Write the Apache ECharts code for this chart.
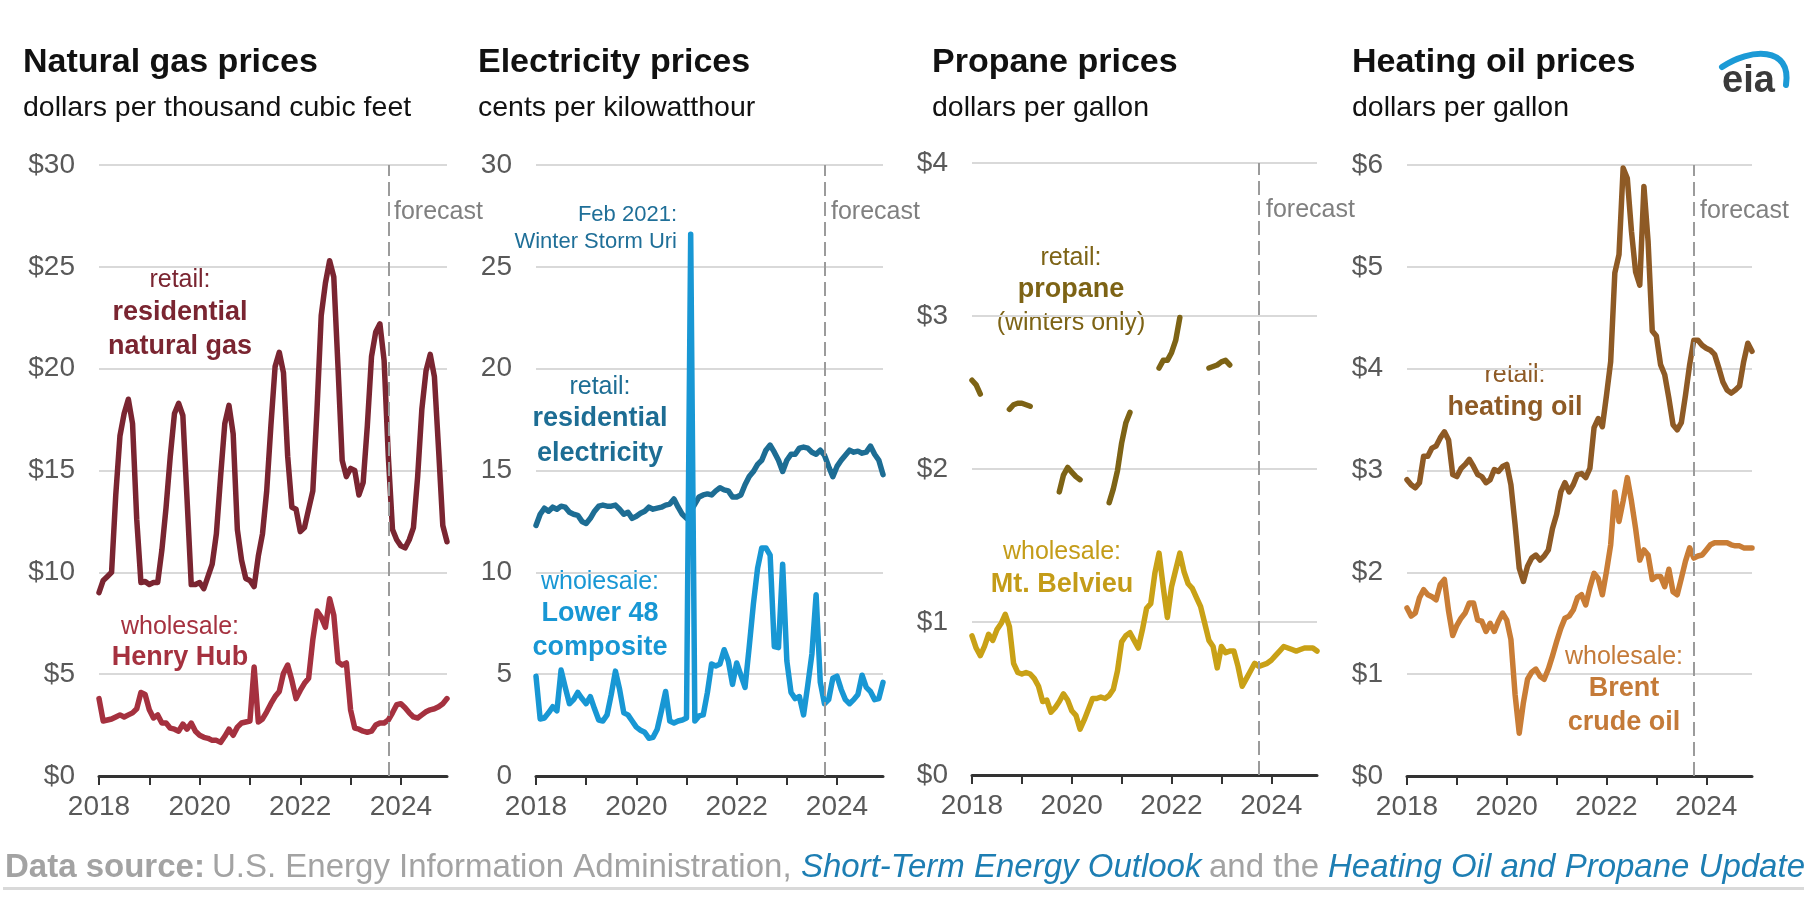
<!DOCTYPE html>
<html>
<head>
<meta charset="utf-8">
<title>Energy prices</title>
<script src="https://cdn.jsdelivr.net/npm/echarts@6/dist/echarts.min.js"></script>
<style>
html, body { margin: 0; padding: 0; background: #fff; }
#chart { width: 1804px; height: 922px; }
</style>
</head>
<body>
<div id="chart"></div>
<script>
// monthly categories, Jan 2018 - Dec 2024
var months = [];
for (var yr = 2018; yr <= 2024; yr++) {
    for (var mo = 1; mo <= 12; mo++) {
        months.push(yr + '-' + (mo < 10 ? '0' + mo : '' + mo));
    }
}
var forecastStart = '2023-10';

// natural gas, dollars per thousand cubic feet
var ngRetail = [
    9.0, 9.6, 9.8, 10.0, 13.8, 16.7, 17.8, 18.5, 17.3, 12.6, 9.5, 9.55,
    9.4, 9.5, 9.5, 11.1, 13.2, 15.7, 17.8, 18.3, 17.7, 13.6, 9.4, 9.4,
    9.5, 9.2, 9.8, 10.4, 11.9, 14.7, 17.3, 18.2, 16.8, 12.1, 10.6, 9.7,
    9.6, 9.3, 10.8, 11.9, 14.0, 17.2, 20.1, 20.8, 19.8, 15.7, 13.2, 13.1,
    12.0, 12.2, 13.1, 14.0, 18.0, 22.6, 24.2, 25.3, 24.5, 20.1, 15.5, 14.7,
    15.1, 15.0, 13.8, 14.4, 17.2, 20.6, 21.8, 22.2, 20.4, 15.7, 12.1, 11.6,
    11.3, 11.2, 11.6, 12.2, 14.7, 18.0, 19.9, 20.7, 19.6, 16.0, 12.3, 11.5
];
var ngHenryHub = [
    3.8, 2.7, 2.75, 2.8, 2.9, 3.0, 2.9, 3.0, 3.1, 3.3, 4.1, 4.0,
    3.25, 2.85, 3.0, 2.6, 2.6, 2.35, 2.3, 2.2, 2.55, 2.3, 2.6, 2.2,
    2.0, 1.9, 1.85, 1.75, 1.75, 1.65, 1.95, 2.3, 2.0, 2.4, 2.6, 2.65,
    2.7, 5.35, 2.65, 2.8, 3.15, 3.55, 3.9, 4.15, 5.05, 5.45, 4.7, 3.8,
    4.2, 4.55, 4.8, 6.7, 8.1, 7.8, 7.3, 8.7, 7.9, 5.6, 5.45, 5.55,
    3.25, 2.35, 2.3, 2.2, 2.15, 2.2, 2.5, 2.6, 2.6, 2.75, 3.1, 3.5,
    3.55, 3.35, 3.1, 2.9, 2.85, 3.0, 3.15, 3.25, 3.3, 3.4, 3.55, 3.8
];

// electricity, cents per kilowatthour
var elRetail = [
    12.3, 12.85, 13.15, 13.0, 13.2, 13.1, 13.25, 13.2, 12.95, 12.85, 12.8, 12.5,
    12.4, 12.65, 13.0, 13.25, 13.3, 13.25, 13.25, 13.3, 13.1, 12.85, 12.95, 12.65,
    12.75, 12.9, 13.0, 13.2, 13.1, 13.15, 13.2, 13.3, 13.35, 13.6, 13.2, 12.85,
    12.65, 13.0, 13.35, 13.7, 13.8, 13.85, 13.8, 14.0, 14.15, 14.05, 14.0, 13.7,
    13.7, 13.8, 14.3, 14.7, 14.95, 15.3, 15.5, 16.0, 16.25, 15.9, 15.5, 14.95,
    15.5, 15.8, 15.8, 16.1, 16.15, 16.1, 15.9, 15.8, 16.0, 15.75, 15.2, 14.7,
    15.2, 15.5, 15.75, 16.0, 15.9, 15.95, 15.85, 15.9, 16.2, 15.8, 15.5, 14.8
];
var elWholesale = [
    4.9, 2.8, 2.85, 3.1, 3.4, 3.2, 5.2, 4.35, 3.55, 3.75, 4.1, 3.8,
    3.55, 3.9, 3.3, 2.75, 2.7, 3.0, 4.0, 5.15, 4.25, 3.1, 3.0, 2.7,
    2.4, 2.25, 2.15, 1.85, 1.9, 2.3, 3.2, 4.15, 2.7, 2.6, 2.7, 2.75,
    2.85, 26.6, 2.7, 2.95, 3.0, 4.1, 5.5, 5.4, 5.5, 6.2, 5.65, 4.5,
    5.55, 4.95, 4.35, 6.35, 8.45, 10.2, 11.2, 11.2, 10.85, 6.35, 6.3, 10.4,
    5.65, 4.1, 3.8, 3.9, 3.0, 4.45, 6.0, 8.9, 4.6, 3.55, 3.75, 4.8,
    4.9, 4.25, 3.75, 3.55, 3.75, 4.0, 4.95, 4.35, 4.15, 3.75, 3.8, 4.6
];

// propane, dollars per gallon (retail only reported in winter months)
var ppRetail = [
    2.58, 2.55, 2.49, null, null, null, null, null, null, 2.39, 2.42, 2.43,
    2.43, 2.42, 2.41, null, null, null, null, null, null, 1.85, 1.96, 2.01,
    1.98, 1.95, 1.93, null, null, null, null, null, null, 1.78, 1.87, 1.99,
    2.17, 2.30, 2.37, null, null, null, null, null, null, 2.66, 2.71, 2.71,
    2.76, 2.84, 2.99, null, null, null, null, null, null, 2.66, 2.67, 2.68,
    2.70, 2.71, 2.68, null, null, null, null, null, null, null, null, null,
    null, null, null, null, null, null, null, null, null, null, null, null
];
var ppMtBelvieu = [
    0.91, 0.83, 0.78, 0.84, 0.92, 0.88, 0.95, 0.99, 1.05, 0.97, 0.73, 0.67,
    0.66, 0.67, 0.66, 0.63, 0.58, 0.48, 0.49, 0.41, 0.44, 0.48, 0.53, 0.49,
    0.42, 0.39, 0.30, 0.36, 0.43, 0.50, 0.50, 0.51, 0.50, 0.52, 0.56, 0.68,
    0.87, 0.91, 0.93, 0.88, 0.83, 0.95, 1.09, 1.12, 1.32, 1.45, 1.23, 1.03,
    1.23, 1.34, 1.45, 1.33, 1.25, 1.22, 1.16, 1.10, 0.99, 0.88, 0.84, 0.70,
    0.84, 0.80, 0.81, 0.81, 0.71, 0.58, 0.63, 0.68, 0.73, 0.71, 0.72, 0.73,
    0.75, 0.78, 0.81, 0.84, 0.83, 0.82, 0.81, 0.82, 0.83, 0.83, 0.83, 0.81
];

// heating oil, dollars per gallon
var hoRetail = [
    2.91, 2.86, 2.83, 2.88, 3.14, 3.14, 3.22, 3.24, 3.32, 3.38, 3.30, 2.96,
    2.94, 3.02, 3.06, 3.11, 3.04, 2.96, 2.94, 2.88, 2.91, 3.01, 2.99, 3.04,
    3.06, 2.86, 2.47, 2.04, 1.91, 2.06, 2.14, 2.17, 2.12, 2.16, 2.22, 2.43,
    2.57, 2.79, 2.88, 2.79, 2.86, 2.96, 2.97, 2.93, 3.02, 3.42, 3.51, 3.43,
    3.74, 4.07, 4.94, 5.12, 5.97, 5.87, 5.35, 4.95, 4.82, 5.79, 5.25, 4.37,
    4.32, 4.04, 3.94, 3.71, 3.45, 3.40, 3.47, 3.74, 4.04, 4.28, 4.28, 4.23,
    4.20, 4.18, 4.14, 4.01, 3.87, 3.79, 3.76, 3.79, 3.83, 4.07, 4.25, 4.17
];
var hoBrent = [
    1.65, 1.57, 1.60, 1.75, 1.83, 1.78, 1.76, 1.73, 1.88, 1.93, 1.62, 1.38,
    1.48, 1.55, 1.60, 1.70, 1.70, 1.53, 1.52, 1.42, 1.50, 1.42, 1.52, 1.60,
    1.53, 1.34, 0.80, 0.42, 0.72, 0.95, 1.02, 1.05, 0.98, 0.95, 1.05, 1.18,
    1.32, 1.45, 1.55, 1.57, 1.63, 1.75, 1.78, 1.68, 1.85, 1.99, 1.94, 1.78,
    2.01, 2.27, 2.79, 2.50, 2.70, 2.93, 2.70, 2.43, 2.12, 2.22, 2.17, 1.93,
    1.96, 1.96, 1.86, 2.03, 1.81, 1.78, 1.94, 2.11, 2.24, 2.14, 2.16, 2.17,
    2.22, 2.27, 2.29, 2.29, 2.29, 2.29, 2.27, 2.26, 2.26, 2.24, 2.24, 2.24
];

var FONT = '"Liberation Sans", Arial, sans-serif';

// one panel per grid: [left, top, width, height]
var grids = [
    [99, 165, 348, 611],
    [536, 165, 347, 611],
    [972, 163, 345, 612],
    [1407, 165, 345, 611]
];
var yMax = [30, 30, 4, 6];
var yInterval = [5, 5, 1, 1];
var yPrefix = ['$', '', '$', '$'];

function makeX(gi) {
    return {
        type: 'category', gridIndex: gi, data: months, boundaryGap: false,
        axisLine: { show: true, lineStyle: { color: '#333', width: 3 } },
        axisTick: {
            show: true, length: 9, lineStyle: { color: '#333', width: 2 },
            interval: function (i) { return i % 12 === 0; }
        },
        axisLabel: {
            interval: function (i) { return i % 24 === 0; },
            formatter: function (v) { return v.slice(0, 4); },
            color: '#595959', fontSize: 28, fontFamily: FONT, margin: 17
        },
        splitLine: { show: false }
    };
}

function makeY(gi) {
    return {
        type: 'value', gridIndex: gi, min: 0, max: yMax[gi], interval: yInterval[gi],
        axisLine: { show: false }, axisTick: { show: false },
        splitLine: { lineStyle: { color: '#d9d9d9', width: 2 } },
        axisLabel: {
            formatter: yPrefix[gi] + '{value}',
            color: '#595959', fontSize: 28, fontFamily: FONT, margin: 24
        }
    };
}

var forecastMark = {
    silent: true, symbol: ['none', 'none'], label: { show: false },
    lineStyle: { color: '#9b9b9b', width: 2, type: [14, 6] },
    data: [{ xAxis: forecastStart }]
};

function makeLine(gi, data, color, withMark) {
    var s = {
        type: 'line', xAxisIndex: gi, yAxisIndex: gi, data: data,
        showSymbol: false, symbol: 'none', smooth: false,
        lineStyle: { color: color, width: 5.5, cap: 'round', join: 'round' },
        itemStyle: { color: color }
    };
    if (withMark) s.markLine = forecastMark;
    return s;
}

function txt(x, y, s, size, color, weight, align, italic) {
    var a = align || 'center';
    return {
        type: 'text', x: x, y: y, silent: true,
        style: {
            text: s, fill: color,
            font: (italic ? 'italic ' : 'normal ') + (weight || 'normal') + ' ' + size + 'px ' + FONT,
            align: a, verticalAlign: 'middle', textAlign: a, textVerticalAlign: 'middle'
        }
    };
}

var graphics = [
    // titles
    txt(23, 63, 'Natural gas prices', 34, '#111', 'bold', 'left'),
    txt(23, 108, 'dollars per thousand cubic feet', 28.5, '#111', 'normal', 'left'),
    txt(478, 63, 'Electricity prices', 34, '#111', 'bold', 'left'),
    txt(478, 108, 'cents per kilowatthour', 28.5, '#111', 'normal', 'left'),
    txt(932, 63, 'Propane prices', 34, '#111', 'bold', 'left'),
    txt(932, 108, 'dollars per gallon', 28.5, '#111', 'normal', 'left'),
    txt(1352, 63, 'Heating oil prices', 34, '#111', 'bold', 'left'),
    txt(1352, 108, 'dollars per gallon', 28.5, '#111', 'normal', 'left'),

    // forecast labels
    txt(394, 212, 'forecast', 25, '#808080', 'normal', 'left'),
    txt(831, 212, 'forecast', 25, '#808080', 'normal', 'left'),
    txt(1266, 210, 'forecast', 25, '#808080', 'normal', 'left'),
    txt(1700, 211, 'forecast', 25, '#808080', 'normal', 'left'),

    // natural gas labels
    txt(180, 280, 'retail:', 25, '#7a2531'),
    txt(180, 313, 'residential', 27, '#7a2531', 'bold'),
    txt(180, 347, 'natural gas', 27, '#7a2531', 'bold'),
    txt(180, 627, 'wholesale:', 25, '#a5313f'),
    txt(180, 658, 'Henry Hub', 27, '#a5313f', 'bold'),

    // electricity labels
    txt(677, 215, 'Feb 2021:', 22, '#1f6f98', 'normal', 'right'),
    txt(677, 242, 'Winter Storm Uri', 22, '#1f6f98', 'normal', 'right'),
    txt(600, 387, 'retail:', 25, '#1d6d94'),
    txt(600, 419, 'residential', 27, '#1d6d94', 'bold'),
    txt(600, 454, 'electricity', 27, '#1d6d94', 'bold'),
    txt(600, 582, 'wholesale:', 25, '#1897d4'),
    txt(600, 614, 'Lower 48', 27, '#1897d4', 'bold'),
    txt(600, 648, 'composite', 27, '#1897d4', 'bold'),

    // propane labels
    txt(1071, 258, 'retail:', 25, '#7d6315'),
    txt(1071, 290, 'propane', 27, '#7d6315', 'bold'),
    txt(1071, 323, '(winters only)', 25, '#7d6315'),
    txt(1062, 552, 'wholesale:', 25, '#c49c18'),
    txt(1062, 585, 'Mt. Belvieu', 27, '#c49c18', 'bold'),

    // heating oil labels
    txt(1515, 375, 'retail:', 25, '#8e5a25'),
    txt(1515, 408, 'heating oil', 27, '#8e5a25', 'bold'),
    txt(1624, 657, 'wholesale:', 25, '#c47a38'),
    txt(1624, 689, 'Brent', 27, '#c47a38', 'bold'),
    txt(1624, 723, 'crude oil', 27, '#c47a38', 'bold'),

    // eia logo: blue swoosh and letters
    {
        type: 'bezierCurve', silent: true,
        shape: { x1: 1722, y1: 67, cpx1: 1750, cpy1: 48, cpx2: 1792, cpy2: 46, x2: 1786, y2: 85 },
        style: { stroke: '#1b9ad6', lineWidth: 6, fill: null, lineCap: 'round' }
    },
    txt(1722, 82, 'eia', 38, '#3a3a3a', 'bold', 'left'),

    // footer
    txt(5, 868, 'Data source:', 33, '#a3a3a3', 'bold', 'left'),
    txt(212, 868, 'U.S. Energy Information Administration,', 33, '#a3a3a3', 'normal', 'left'),
    txt(801, 868, 'Short-Term Energy Outlook', 33, '#1d7eb3', 'normal', 'left', true),
    txt(1209, 868, 'and the', 33, '#a3a3a3', 'normal', 'left'),
    txt(1328, 868, 'Heating Oil and Propane Update', 33, '#1d7eb3', 'normal', 'left', true),
    {
        type: 'rect', silent: true,
        shape: { x: 3, y: 887, width: 1801, height: 3 },
        style: { fill: '#d9d9d9' }
    }
];

var myChart = echarts.init(document.getElementById('chart'));

var option = {
    backgroundColor: '#ffffff',
    animation: false,
    textStyle: { fontFamily: FONT },
    grid: grids.map(function (g) {
        return { left: g[0], top: g[1], width: g[2], height: g[3], containLabel: false };
    }),
    xAxis: [makeX(0), makeX(1), makeX(2), makeX(3)],
    yAxis: [makeY(0), makeY(1), makeY(2), makeY(3)],
    series: [
        makeLine(0, ngRetail, '#7a2531', true),
        makeLine(0, ngHenryHub, '#a5313f', false),
        makeLine(1, elRetail, '#1d6d94', true),
        makeLine(1, elWholesale, '#1897d4', false),
        makeLine(2, ppRetail, '#7d6315', true),
        makeLine(2, ppMtBelvieu, '#c9a116', false),
        makeLine(3, hoRetail, '#8e5a25', true),
        makeLine(3, hoBrent, '#c97d36', false)
    ],
    graphic: graphics
};

myChart.setOption(option);
</script>
</body>
</html>
